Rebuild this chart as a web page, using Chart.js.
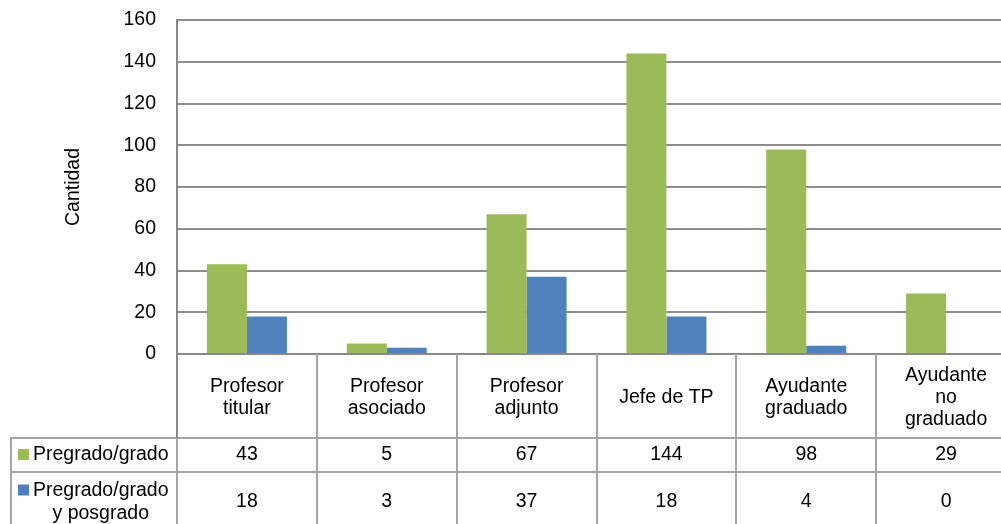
<!DOCTYPE html>
<html>
<head>
<meta charset="utf-8">
<script src="https://cdn.jsdelivr.net/npm/chart.js@4.4.1/dist/chart.umd.min.js"></script>
<style>
  html, body { margin: 0; padding: 0; background: #ffffff; overflow: hidden; }
  #wrap { width: 1016px; height: 524px; }
</style>
</head>
<body>
<div id="wrap"><canvas id="c" width="1016" height="524"></canvas></div>
<script>
// ---- data ----
const categories = [
  ["Profesor", "titular"],
  ["Profesor", "asociado"],
  ["Profesor", "adjunto"],
  ["Jefe de TP"],
  ["Ayudante", "graduado"],
  ["Ayudante", "no", "graduado"]
];
const seriesNames = ["Pregrado/grado", "Pregrado/grado y posgrado"];
const seriesNameLines = [["Pregrado/grado"], ["Pregrado/grado", "y posgrado"]];
const pregrado = [43, 5, 67, 144, 98, 29];
const pregradoPosgrado = [18, 3, 37, 18, 4, 0];
const yAxisTitle = "Cantidad";
const yMin = 0, yMax = 160, yStep = 20;

// ---- styles ----
const FONT = '"Liberation Sans", Arial, sans-serif';
const FSIZE = 19.5;
const colors = ["#9BBB59", "#4F81BD"];
const axisColor = "#898989";
const tableLine = "#A5A5A5";

const tablePlugin = {
  id: "dataTable",
  afterDraw(chart) {
    const ctx = chart.ctx;
    const xs = chart.scales.x;
    const area = chart.chartArea;
    const H = chart.height;
    const n = categories.length;
    const w = xs.getPixelForValue(1) - xs.getPixelForValue(0);
    const top = area.bottom;
    const row1 = top + 84;     // top of first data row
    const row2 = row1 + 34;    // top of second data row
    const leftEdge = 11;
    const series = [pregrado, pregradoPosgrado];
    ctx.save();
    ctx.strokeStyle = tableLine;
    ctx.lineWidth = 2;
    // vertical dividers
    for (let i = 0; i <= n; i++) {
      const bx = Math.round(xs.getPixelForValue(0) - w / 2 + i * w);
      ctx.beginPath();
      ctx.moveTo(bx, top);
      ctx.lineTo(bx, H);
      ctx.stroke();
    }
    // left border of header column
    ctx.beginPath();
    ctx.moveTo(leftEdge, row1);
    ctx.lineTo(leftEdge, H);
    ctx.stroke();
    // horizontal lines
    [row1, row2].forEach(y => {
      ctx.beginPath();
      ctx.moveTo(leftEdge - 1, y);
      ctx.lineTo(chart.width, y);
      ctx.stroke();
    });
    // axis line continuing at left over table
    ctx.strokeStyle = axisColor;
    ctx.beginPath();
    ctx.moveTo(area.left, top);
    ctx.lineTo(area.left, row1);
    ctx.stroke();

    ctx.font = FSIZE + "px " + FONT;
    ctx.fillStyle = "#000";
    ctx.textBaseline = "middle";
    ctx.textAlign = "center";
    const rowCenters = [row1 + 17, row2 + 30];
    // values
    for (let s = 0; s < series.length; s++) {
      for (let i = 0; i < n; i++) {
        ctx.fillText(String(series[s][i]), xs.getPixelForValue(i), rowCenters[s]);
      }
    }
    // legend header cells
    const textX = 33;
    for (let s = 0; s < series.length; s++) {
      const lines = seriesNameLines[s];
      const lh = 23;
      const firstY = rowCenters[s] - (lines.length - 1) * lh / 2;
      ctx.fillStyle = colors[s];
      ctx.fillRect(18, firstY - 6, 11, 11);
      ctx.fillStyle = "#000";
      const w0 = ctx.measureText(lines[0]).width;
      const cx = textX + w0 / 2;
      lines.forEach((ln, k) => {
        ctx.fillText(ln, cx, firstY + k * lh);
      });
    }
    ctx.restore();
  }
};

new Chart(document.getElementById("c"), {
  type: "bar",
  data: {
    labels: categories,
    datasets: [
      { label: seriesNames[0], data: pregrado, backgroundColor: colors[0], borderWidth: 0 },
      { label: seriesNames[1], data: pregradoPosgrado, backgroundColor: colors[1], borderWidth: 0 }
    ]
  },
  options: {
    responsive: false,
    devicePixelRatio: 1,
    animation: false,
    categoryPercentage: 0.572,
    barPercentage: 1.0,
    layout: { padding: { top: 20, left: 0, right: 0, bottom: 0 } },
    plugins: {
      legend: { display: false },
      tooltip: { enabled: false }
    },
    scales: {
      x: {
        offset: true,
        grid: { display: false },
        border: { display: true, color: axisColor, width: 2 },
        ticks: {
          color: "#000",
          font: { family: FONT, size: FSIZE, lineHeight: 1.13 },
          crossAlign: "center",
          padding: 14,
          maxRotation: 0,
          minRotation: 0,
          autoSkip: false
        },
        afterFit(scale) { scale.height = 170; }
      },
      y: {
        min: yMin,
        max: yMax,
        ticks: {
          stepSize: yStep,
          color: "#000",
          font: { family: FONT, size: FSIZE },
          padding: 21
        },
        grid: { color: "#8E8E8E", lineWidth: 2, drawTicks: false },
        border: { display: true, color: axisColor, width: 2 },
        title: {
          display: true,
          text: yAxisTitle,
          color: "#000",
          font: { family: FONT, size: FSIZE },
          padding: { top: 62, bottom: 0 }
        },
        afterFit(scale) {
          scale.width = 177;
          scale.paddingTop = 0;
          scale.paddingBottom = 0;
        }
      }
    }
  },
  plugins: [tablePlugin]
});
</script>
</body>
</html>
